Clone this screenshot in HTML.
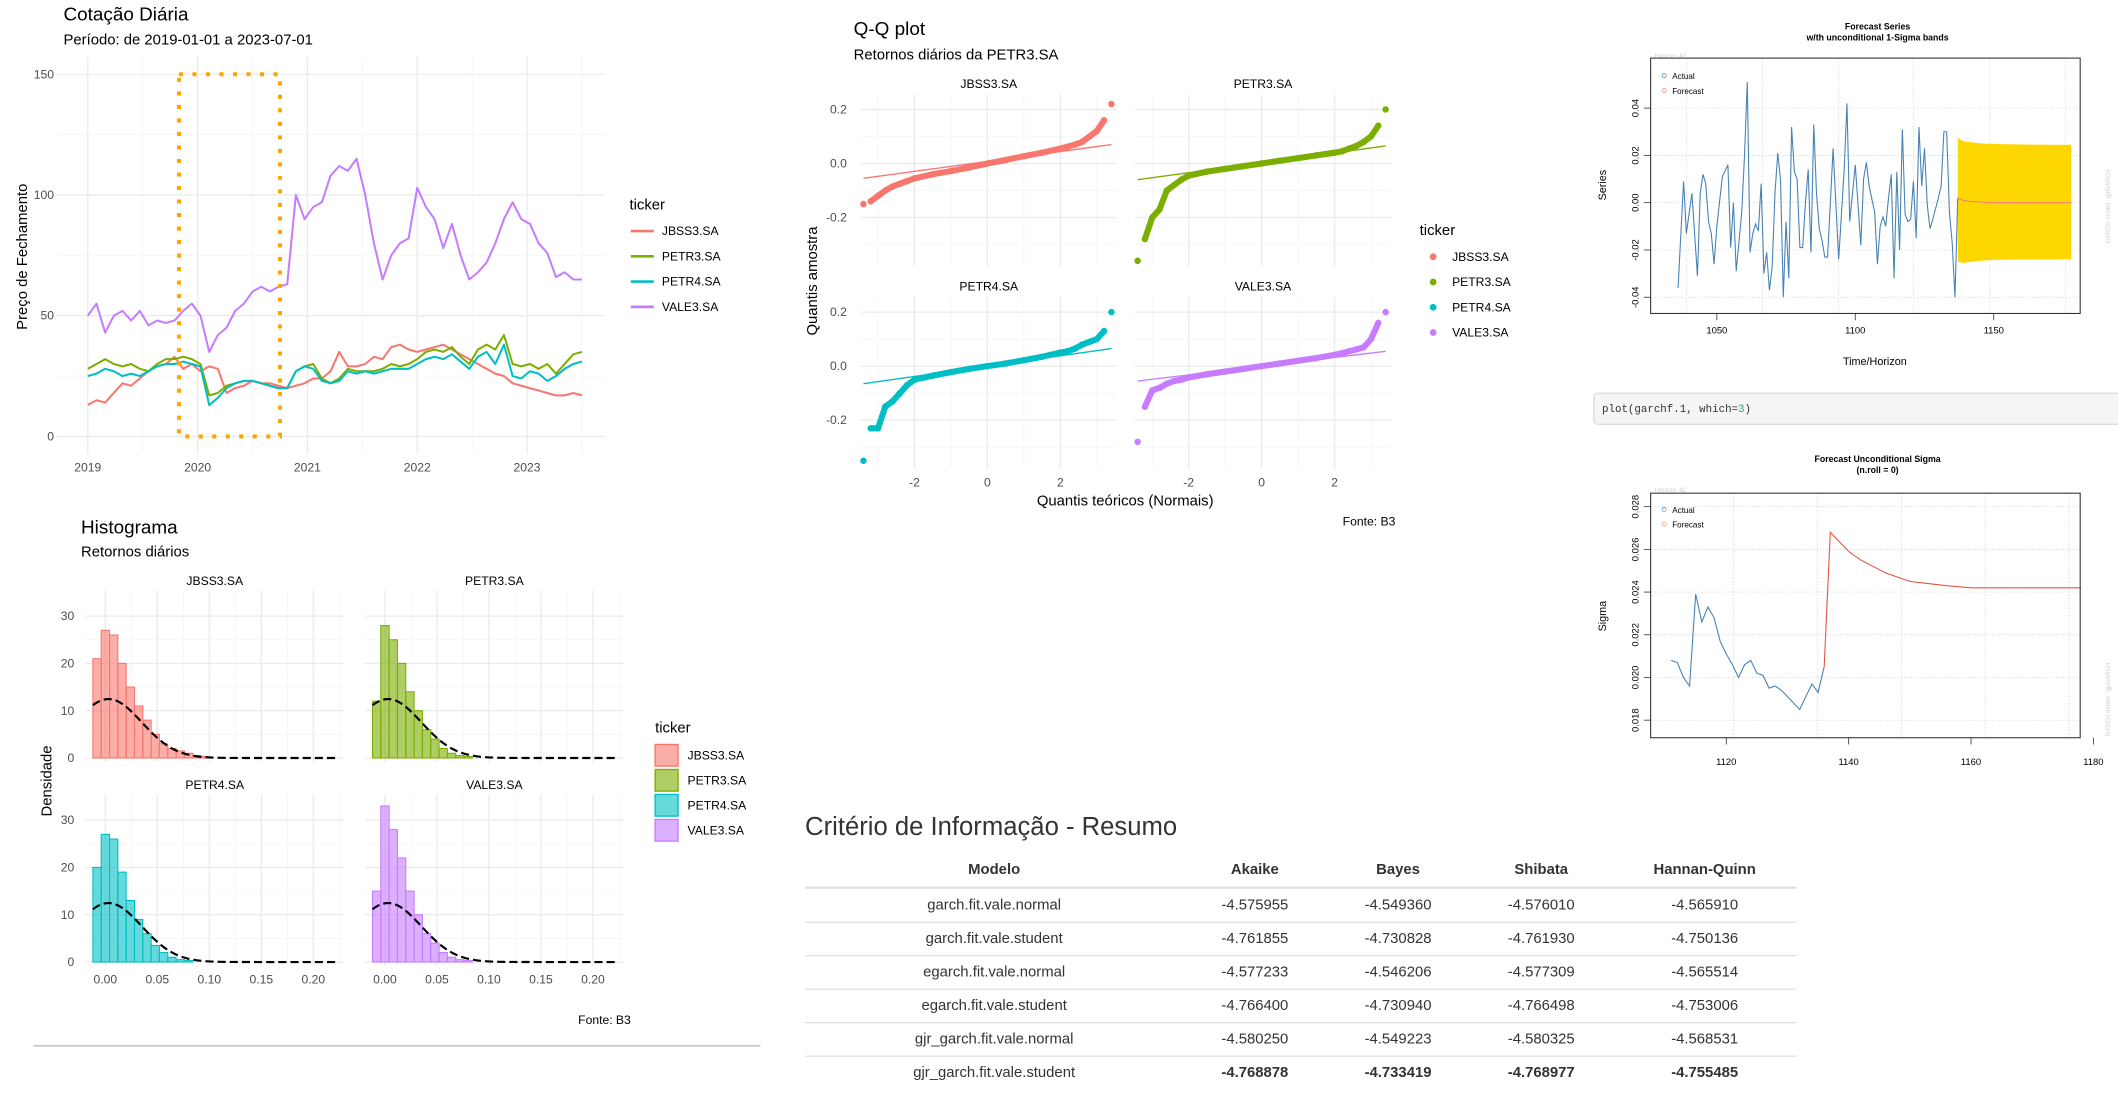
<!DOCTYPE html>
<html><head><meta charset="utf-8">
<style>
html,body{margin:0;padding:0;background:#fff;}
svg{display:block;font-family:"Liberation Sans",sans-serif;}
</style></head>
<body>
<svg id="root" xmlns="http://www.w3.org/2000/svg" width="2118" height="1112" viewBox="0 0 1568 823" preserveAspectRatio="none">
<rect x="0" y="0" width="1568" height="823" fill="#fff"/>
<!-- Panel 1 titles -->
<text x="47" y="15" font-size="14" fill="#000">Cotação Diária</text>
<text x="47" y="33" font-size="11" fill="#000">Período: de 2019-01-01 a 2023-07-01</text>
<text transform="translate(20,190) rotate(-90)" text-anchor="middle" font-size="11">Preço de Fechamento</text>
<g id="p1"></g>
<!-- Histogram -->
<text x="60" y="395" font-size="14">Histograma</text>
<text x="60" y="412" font-size="11">Retornos diários</text>
<text transform="translate(38,578) rotate(-90)" text-anchor="middle" font-size="11">Densidade</text>
<text x="467" y="758" text-anchor="end" font-size="9">Fonte: B3</text>
<line x1="25" y1="774" x2="563" y2="774" stroke="#bbb" stroke-width="1"/>
<g id="p2"></g>
<!-- QQ -->
<text x="632" y="26" font-size="14">Q-Q plot</text>
<text x="632" y="44" font-size="11">Retornos diários da PETR3.SA</text>
<text transform="translate(605,208) rotate(-90)" text-anchor="middle" font-size="11">Quantis amostra</text>
<text x="833" y="374" text-anchor="middle" font-size="11">Quantis teóricos (Normais)</text>
<text x="1033" y="389" text-anchor="end" font-size="9">Fonte: B3</text>
<g id="p3"></g>
<!-- Forecast series -->
<text x="1390" y="22" text-anchor="middle" font-size="6.5" font-weight="bold">Forecast Series</text>
<text x="1390" y="30" text-anchor="middle" font-size="6.5" font-weight="bold">w/th unconditional 1-Sigma bands</text>
<text x="1225" y="43" font-size="4.5" fill="#ccc">Horizon: 42</text>
<text transform="translate(1189,137) rotate(-90)" text-anchor="middle" font-size="8">Series</text>
<text x="1388" y="270" text-anchor="middle" font-size="8">Time/Horizon</text>
<text transform="translate(1562,180) rotate(-90)" font-size="4.5" fill="#ccc">GARCH model : gjrGARCH</text>
<g id="p4"></g>
<!-- code chunk -->
<rect x="1180" y="291" width="395" height="23" rx="3" fill="#f5f5f5" stroke="#ddd"/>
<text x="1186" y="305" font-family="Liberation Mono, monospace" font-size="8" fill="#333">plot(garchf.1, which=<tspan fill="#1aa">3</tspan>)</text>
<!-- Sigma -->
<text x="1390" y="342" text-anchor="middle" font-size="6.5" font-weight="bold">Forecast Unconditional Sigma</text>
<text x="1390" y="350" text-anchor="middle" font-size="6.5" font-weight="bold">(n.roll = 0)</text>
<text x="1225" y="364" font-size="4.5" fill="#ccc">Horizon: 42</text>
<text transform="translate(1189,456) rotate(-90)" text-anchor="middle" font-size="8">Sigma</text>
<text transform="translate(1562,545) rotate(-90)" font-size="4.5" fill="#ccc">GARCH model : gjrGARCH</text>
<g id="p5"></g>
<!-- Table -->
<text x="596" y="618" font-size="19" fill="#333">Critério de Informação - Resumo</text>
<g id="tbl"></g>
</svg>
<script>
const NS="http://www.w3.org/2000/svg";
function mk(tag,a,p){const e=document.createElementNS(NS,tag);for(const k in a)e.setAttribute(k,a[k]);p.appendChild(e);return e;}
function tx(s,a,p){const e=mk('text',a,p);e.textContent=s;return e;}
const tickers=["JBSS3.SA","PETR3.SA","PETR4.SA","VALE3.SA"];
const colors=["#F8766D","#7CAE00","#00BFC4","#C77CFF"];

// ===== Panel 1: prices (monthly, 2019-01 .. 2023-07) =====
const priceJBSS3=[13,15,14,18,22,21,24,27,29,30,33,28,30,27,29,28,18,20,21,23,22,22,21,20,21,22,24,24,27,35,29,29,30,33,32,37,38,36,35,36,37,38,36,34,32,30,28,26,25,22,21,20,19,18,17,17,18,17];
const pricePETR3=[28,30,32,30,29,30,28,27,30,32,32,33,32,30,17,18,21,22,23,23,22,21,20,20,27,29,30,24,22,24,28,27,27,27,28,30,29,30,32,35,36,35,37,33,30,36,38,36,42,30,29,30,28,30,26,30,34,35];
const pricePETR4=[25,26,28,27,25,26,25,27,29,30,30,31,30,29,13,16,20,22,23,23,22,21,20,20,27,29,28,23,22,23,27,26,27,26,27,28,28,28,30,32,33,32,34,31,28,33,35,30,38,25,24,27,26,23,25,28,30,31];
const priceVALE3=[50,55,43,50,52,48,52,46,48,47,48,52,55,50,35,42,45,52,55,60,62,60,62,63,100,90,95,97,108,112,110,115,100,80,65,75,80,82,103,95,90,78,88,75,65,68,72,80,90,97,90,88,80,76,66,68,65,65];
const priceSeries=[priceJBSS3,pricePETR3,pricePETR4,priceVALE3];
const yearTicks=[2019,2020,2021,2022,2023];
const priceTicks=[0,50,100,150];
(function(){
 const g=document.getElementById('p1');
 const X=t=>65+(t-2019)*81.3, Y=v=>323-v*1.787;
 for(let v=25;v<=150;v+=50) mk('line',{x1:42,x2:448,y1:Y(v),y2:Y(v),stroke:'#f3f3f3','stroke-width':0.5},g);
 for(let t=2019.5;t<2024;t+=1) mk('line',{x1:X(t),x2:X(t),y1:42,y2:336,stroke:'#f3f3f3','stroke-width':0.5},g);
 priceTicks.forEach(v=>{mk('line',{x1:42,x2:448,y1:Y(v),y2:Y(v),stroke:'#ebebeb','stroke-width':1},g);
  const l=tx(String(v),{x:40,y:Y(v)+3,'text-anchor':'end','font-size':9,fill:'#4d4d4d'},g);
  
  });
 yearTicks.forEach(t=>{mk('line',{x1:X(t),x2:X(t),y1:42,y2:336,stroke:'#ebebeb','stroke-width':1},g);
  const l=tx(String(t),{x:X(t),y:349,'text-anchor':'middle','font-size':9,fill:'#4d4d4d'},g);
  
  });
 priceSeries.forEach((s,k)=>{
  const pts=s.map((v,i)=>X(2019+i*(4.5/(s.length-1)))+','+Y(v)).join(' ');
  const pl=mk('polyline',{points:pts,fill:'none',stroke:colors[k],'stroke-width':1.5,'stroke-linejoin':'round'},g);
  
  
 });
 const r=mk('rect',{x:X(2019.83),y:Y(150),width:X(2020.75)-X(2019.83),height:Y(0)-Y(150),fill:'none',stroke:'#FFA500','stroke-width':3,'stroke-dasharray':'3,7'},g);
 
 
 const lt=tx('ticker',{x:466,y:155,'font-size':11},g);
 
 
 tickers.forEach((t,k)=>{const y=171+k*18.7;
  mk('line',{x1:467,x2:484,y1:y,y2:y,stroke:colors[k],'stroke-width':2},g);
  const e=tx(t,{x:490,y:y+3,'font-size':9},g);
  
  });
})();

// ===== Panel 2: histograms (density per bin, bins start -0.012 width 0.008) =====
const histJBSS3=[21,27,26,20,15,11,8,5,3,2,1.5,1,0.5,0.3];
const histPETR3=[12,28,25,20,14,10,6,4,2,1,0.5,0.3];
const histPETR4=[20,27,26,19,13,9,6,3.5,2,1,0.5,0.3];
const histVALE3=[15,33,28,22,15,10,6,4,2,1,0.5,0.3];
const histSeries=[histJBSS3,histPETR3,histPETR4,histVALE3];
const normMean=[0.003,0.003,0.003,0.003];
const normSd=[0.032,0.032,0.032,0.032];
const histXTicks=[0,0.05,0.1,0.15,0.2];
const histXLabels=["0.00","0.05","0.10","0.15","0.20"];
const histYTicks=[0,10,20,30];
(function(){
 const g=document.getElementById('p2');
 const cols=[63,270], rows=[437,588];
 tickers.forEach((tk,k)=>{
  const x0=cols[k%2], y0=rows[Math.floor(k/2)];
  const X=v=>x0+15+v*770, Y=d=>y0+124-d*3.5;
  for(let v=0.025;v<0.24;v+=0.05) mk('line',{x1:X(v),x2:X(v),y1:y0,y2:y0+127,stroke:'#f3f3f3','stroke-width':0.5},g);
  for(let d=5;d<35;d+=10) mk('line',{x1:x0,x2:x0+192,y1:Y(d),y2:Y(d),stroke:'#f3f3f3','stroke-width':0.5},g);
  histXTicks.forEach((v,i)=>{mk('line',{x1:X(v),x2:X(v),y1:y0,y2:y0+127,stroke:'#ebebeb'},g);
   if(y0===588){const l=tx(histXLabels[i],{x:X(v),y:728,'text-anchor':'middle','font-size':9,fill:'#4d4d4d'},g);
    
    }});
  histYTicks.forEach(d=>{mk('line',{x1:x0,x2:x0+192,y1:Y(d),y2:Y(d),stroke:'#ebebeb'},g);
   if(x0===63){const l=tx(String(d),{x:55,y:Y(d)+3,'text-anchor':'end','font-size':9,fill:'#4d4d4d'},g);
    
    }});
  const st=tx(tk,{x:x0+96,y:y0-4,'text-anchor':'middle','font-size':9},g);
  
  
  histSeries[k].forEach((d,i)=>{const a=-0.012+i*0.008;
   const b=mk('rect',{x:X(a),y:Y(d),width:X(a+0.008)-X(a),height:Y(0)-Y(d),fill:colors[k],'fill-opacity':0.6,stroke:colors[k],'stroke-width':0.8},g);
   
   });
  const pts=[];for(let v=-0.012;v<=0.225;v+=0.002){const z=(v-normMean[k])/normSd[k];pts.push(X(v)+','+Y(Math.exp(-z*z/2)/(normSd[k]*2.5066)));}
  const c=mk('polyline',{points:pts.join(' '),fill:'none',stroke:'#000','stroke-width':1.6,'stroke-dasharray':'6,3'},g);
  
  
 });
 const lt=tx('ticker',{x:485,y:542,'font-size':11},g);
 
 
 tickers.forEach((t,k)=>{const y=551+k*18.5;
  mk('rect',{x:485,y:y,width:17,height:16,fill:colors[k],'fill-opacity':0.6,stroke:colors[k]},g);
  const e=tx(t,{x:509,y:y+11,'font-size':9},g);
  
  });
})();

// ===== Panel 3: QQ =====
const qqTheo=[-3.4,-3.2,-3,-2.8,-2.6,-2.4,-2.2,-2,-1.5,-1,-0.5,0,0.5,1,1.5,2,2.2,2.4,2.6,2.8,3,3.2,3.4];
const qqJBSS3=[-0.15,-0.14,-0.12,-0.1,-0.085,-0.075,-0.065,-0.055,-0.04,-0.028,-0.015,0,0.013,0.027,0.04,0.055,0.062,0.07,0.08,0.1,0.12,0.16,0.22];
const qqPETR3=[-0.36,-0.28,-0.2,-0.17,-0.1,-0.08,-0.06,-0.045,-0.03,-0.02,-0.01,0,0.01,0.02,0.03,0.04,0.045,0.055,0.065,0.08,0.1,0.14,0.2];
const qqPETR4=[-0.35,-0.23,-0.23,-0.15,-0.13,-0.1,-0.07,-0.05,-0.035,-0.022,-0.01,0,0.01,0.022,0.035,0.05,0.055,0.065,0.08,0.09,0.1,0.13,0.2];
const qqVALE3=[-0.28,-0.15,-0.09,-0.08,-0.065,-0.055,-0.05,-0.042,-0.03,-0.02,-0.01,0,0.01,0.02,0.03,0.042,0.048,0.055,0.062,0.07,0.1,0.16,0.2];
const qqSeries=[qqJBSS3,qqPETR3,qqPETR4,qqVALE3];
const qqLineLo=[-0.055,-0.06,-0.065,-0.055];
const qqLineHi=[0.07,0.065,0.065,0.055];
const qqXTicks=[-2,0,2];
const qqYTicks=[-0.2,0,0.2];
(function(){
 const g=document.getElementById('p3');
 const cols=[637,840], rows=[70,220];
 tickers.forEach((tk,k)=>{
  const x0=cols[k%2], y0=rows[Math.floor(k/2)];
  const X=v=>x0+94+v*27, Y=v=>y0+51-v*200;
  [-3,-1,1,3].forEach(v=>mk('line',{x1:X(v),x2:X(v),y1:y0,y2:y0+127,stroke:'#f3f3f3','stroke-width':0.5},g));
  [-0.3,-0.1,0.1].forEach(v=>mk('line',{x1:x0,x2:x0+190,y1:Y(v),y2:Y(v),stroke:'#f3f3f3','stroke-width':0.5},g));
  qqXTicks.forEach(v=>{mk('line',{x1:X(v),x2:X(v),y1:y0,y2:y0+127,stroke:'#ebebeb'},g);
   if(y0===220){const l=tx(String(v),{x:X(v),y:360,'text-anchor':'middle','font-size':9,fill:'#4d4d4d'},g);
    
    }});
  qqYTicks.forEach(v=>{mk('line',{x1:x0,x2:x0+190,y1:Y(v),y2:Y(v),stroke:'#ebebeb'},g);
   if(x0===637){const l=tx(v.toFixed(1),{x:627,y:Y(v)+3,'text-anchor':'end','font-size':9,fill:'#4d4d4d'},g);
    
    }});
  const st=tx(tk,{x:x0+95,y:y0-5,'text-anchor':'middle','font-size':9},g);
  
  
  const s=qqSeries[k];
  const pl=mk('polyline',{points:qqTheo.slice(1,-1).map((t,i)=>X(t)+','+Y(s[i+1])).join(' '),fill:'none',stroke:colors[k],'stroke-width':4.5,'stroke-linejoin':'round'},g);
  
  
  qqTheo.forEach((t,i)=>{const c=mk('circle',{cx:X(t),cy:Y(s[i]),r:2.4,fill:colors[k]},g);
   
   });
  const rl=mk('line',{x1:X(-3.4),y1:Y(qqLineLo[k]),x2:X(3.4),y2:Y(qqLineHi[k]),stroke:colors[k],'stroke-width':1},g);
  
  
 });
 const lt=tx('ticker',{x:1051,y:174,'font-size':11},g);
 
 
 tickers.forEach((t,k)=>{const y=190+k*18.7;
  mk('circle',{cx:1061,cy:y,r:2.5,fill:colors[k]},g);
  const e=tx(t,{x:1075,y:y+3,'font-size':9},g);
  
  });
})();

// ===== Panel 4: forecast series =====
const fcTime=[1036,1038,1039,1041,1043,1044,1045,1046,1047,1048,1049,1050,1052,1054,1055,1056,1057,1059,1060,1061,1062,1063,1064,1065,1066,1067,1068,1069,1070,1071,1072,1073,1074,1075,1076,1077,1078,1079,1080,1081,1082,1083,1084,1085,1086,1087,1088,1089,1090,1092,1094,1096,1097,1098,1100,1102,1103,1104,1105,1107,1108,1109,1110,1111,1112,1113,1114,1115,1116,1117,1118,1119,1120,1121,1122,1123,1124,1125,1126,1127,1128,1130,1131,1132,1133,1134,1135,1136,1137];
const fcActual=[-0.036,0.009,-0.013,0.004,-0.031,0.004,0.012,0.008,-0.008,-0.013,-0.026,-0.01,0.011,0.016,-0.019,0,-0.029,-0.004,0.02,0.051,-0.021,-0.013,-0.009,-0.012,0.008,-0.03,-0.021,-0.037,-0.027,0.004,0.021,0.01,-0.04,-0.008,-0.032,0.032,0.013,0.01,-0.019,-0.019,0,0.014,-0.021,0.033,0.004,-0.011,-0.016,-0.023,-0.023,0.023,-0.024,0.014,0.042,-0.008,0.016,-0.018,0.01,0.017,0.007,-0.004,-0.026,-0.01,-0.006,-0.01,0.002,0.012,-0.032,0.013,-0.02,0.031,-0.005,-0.008,-0.007,0.009,-0.015,0.032,0.007,0.023,-0.001,-0.011,-0.007,0.002,0.007,0.03,0.03,-0.004,-0.017,-0.04,0.002];
const fcHTime=[1137,1139,1142,1146,1150,1160,1170,1178];
const fcMean=[0.002,0.001,0.0005,0.0002,0.0001,0,0,0];
const fcUpper=[0.0275,0.026,0.0255,0.025,0.0248,0.0246,0.0245,0.0245];
const fcLower=[-0.025,-0.0255,-0.025,-0.0245,-0.0242,-0.024,-0.024,-0.024];
const fcXTicks=[1050,1100,1150];
const fcYTicks=[-0.04,-0.02,0,0.02,0.04];
(function(){
 const g=document.getElementById('p4');
 const X=t=>1271+(t-1050)*2.05, Y=v=>150-v*1750;
 [1039,1066.5,1094,1121,1148.6,1176].forEach(t=>mk('line',{x1:X(t),x2:X(t),y1:43,y2:232,stroke:'#ccc','stroke-width':0.5,'stroke-dasharray':'1,1.5'},g));
 fcYTicks.forEach(v=>{mk('line',{x1:1222,x2:1540,y1:Y(v),y2:Y(v),stroke:'#ccc','stroke-width':0.5,'stroke-dasharray':'1,1.5'},g);
  mk('line',{x1:1217,x2:1222,y1:Y(v),y2:Y(v),stroke:'#333','stroke-width':0.6},g);
  const l=tx(v.toFixed(2),{transform:`translate(1213,${Y(v)}) rotate(-90)`,'text-anchor':'middle','font-size':7},g);
  
  });
 fcXTicks.forEach(t=>{mk('line',{x1:X(t),x2:X(t),y1:232,y2:237,stroke:'#333','stroke-width':0.6},g);
  const l=tx(String(t),{x:X(t),y:247,'text-anchor':'middle','font-size':7},g);
  
  });
 const band=fcHTime.map((t,i)=>X(t)+','+Y(fcUpper[i])).concat(fcHTime.slice().reverse().map((t,i)=>X(t)+','+Y(fcLower[fcHTime.length-1-i])));
 const b=mk('polygon',{points:band.join(' '),fill:'#FFD700'},g);
 
 
 const a=mk('polyline',{points:fcTime.map((t,i)=>X(t)+','+Y(fcActual[i])).join(' '),fill:'none',stroke:'#4682B4','stroke-width':0.8},g);
 
 
 const f=mk('polyline',{points:fcHTime.map((t,i)=>X(t)+','+Y(fcMean[i])).join(' '),fill:'none',stroke:'#FA8072','stroke-width':0.8},g);
 
 
 mk('rect',{x:1222,y:43,width:318,height:189,fill:'none',stroke:'#333','stroke-width':0.8},g);
 mk('circle',{cx:1232,cy:56,r:1.5,fill:'none',stroke:'#4682B4','stroke-width':0.5},g);
 mk('circle',{cx:1232,cy:67,r:1.5,fill:'none',stroke:'#FA8072','stroke-width':0.5},g);
 const l1=tx('Actual',{x:1238,y:58.5,'font-size':6},g);
 
 
 const l2=tx('Forecast',{x:1238,y:69.5,'font-size':6},g);
 
 
})();

// ===== Panel 5: sigma =====
const sgTime=[1111,1112,1113,1114,1115,1116,1117,1118,1119,1120,1121,1122,1123,1124,1125,1126,1127,1128,1129,1130,1131,1132,1133,1134,1135,1136];
const sgActual=[0.0208,0.0207,0.0200,0.0196,0.0239,0.0226,0.0233,0.0228,0.0217,0.0211,0.0206,0.0200,0.0206,0.0208,0.0202,0.0201,0.0195,0.0196,0.0194,0.0191,0.0188,0.0185,0.0191,0.0197,0.0193,0.0205];
const sgFTime=[1136,1137,1138,1139,1140,1142,1144,1146,1148,1150,1153,1156,1160,1165,1178];
const sgForecast=[0.0205,0.0268,0.0265,0.0262,0.0259,0.0255,0.0252,0.0249,0.0247,0.0245,0.0244,0.0243,0.0242,0.0242,0.0242];
const sgXTicks=[1120,1140,1160,1180];
const sgYTicks=[0.018,0.020,0.022,0.024,0.026,0.028];
(function(){
 const g=document.getElementById('p5');
 const X=t=>1278+(t-1120)*4.53, Y=v=>533-(v-0.018)*15800;
 [1121.2,1134.9,1148.6,1162.3,1176].forEach(t=>mk('line',{x1:X(t),x2:X(t),y1:365,y2:546,stroke:'#ccc','stroke-width':0.5,'stroke-dasharray':'1,1.5'},g));
 sgYTicks.forEach(v=>{mk('line',{x1:1222,x2:1540,y1:Y(v),y2:Y(v),stroke:'#ccc','stroke-width':0.5,'stroke-dasharray':'1,1.5'},g);
  mk('line',{x1:1217,x2:1222,y1:Y(v),y2:Y(v),stroke:'#333','stroke-width':0.6},g);
  const l=tx(v.toFixed(3),{transform:`translate(1213,${Y(v)}) rotate(-90)`,'text-anchor':'middle','font-size':7},g);
  
  });
 sgXTicks.forEach(t=>{mk('line',{x1:X(t),x2:X(t),y1:546,y2:551,stroke:'#333','stroke-width':0.6},g);
  const l=tx(String(t),{x:X(t),y:566,'text-anchor':'middle','font-size':7},g);
  
  });
 const a=mk('polyline',{points:sgTime.map((t,i)=>X(t)+','+Y(sgActual[i])).join(' '),fill:'none',stroke:'#4682B4','stroke-width':0.8},g);
 
 
 const f=mk('polyline',{points:sgFTime.map((t,i)=>X(t)+','+Y(sgForecast[i])).join(' '),fill:'none',stroke:'#E5533F','stroke-width':0.8},g);
 
 
 mk('rect',{x:1222,y:365,width:318,height:181,fill:'none',stroke:'#333','stroke-width':0.8},g);
 mk('circle',{cx:1232,cy:377,r:1.5,fill:'none',stroke:'#4682B4','stroke-width':0.5},g);
 mk('circle',{cx:1232,cy:388,r:1.5,fill:'none',stroke:'#FA8072','stroke-width':0.5},g);
 const l1=tx('Actual',{x:1238,y:379.5,'font-size':6},g);
 
 
 const l2=tx('Forecast',{x:1238,y:390.5,'font-size':6},g);
 
 
})();

// ===== Table =====
const tblHeader=["Modelo","Akaike","Bayes","Shibata","Hannan-Quinn"];
const tblModels=["garch.fit.vale.normal","garch.fit.vale.student","egarch.fit.vale.normal","egarch.fit.vale.student","gjr_garch.fit.vale.normal","gjr_garch.fit.vale.student"];
const tblAkaike=["-4.575955","-4.761855","-4.577233","-4.766400","-4.580250","-4.768878"];
const tblBayes=["-4.549360","-4.730828","-4.546206","-4.730940","-4.549223","-4.733419"];
const tblShibata=["-4.576010","-4.761930","-4.577309","-4.766498","-4.580325","-4.768977"];
const tblHQ=["-4.565910","-4.750136","-4.565514","-4.753006","-4.568531","-4.755485"];
(function(){
 const g=document.getElementById('tbl');
 const cx=[736,929,1035,1141,1262];
 tblHeader.forEach((h,i)=>{const e=tx(h,{x:cx[i],y:647,'text-anchor':'middle','font-size':11,'font-weight':'bold',fill:'#333'},g);
  
  });
 mk('line',{x1:596,x2:1330,y1:657,y2:657,stroke:'#ddd','stroke-width':1.5},g);
 const cols=[tblModels,tblAkaike,tblBayes,tblShibata,tblHQ];
 tblModels.forEach((m,r)=>{const y=673+r*24.8;
  if(r<5) mk('line',{x1:596,x2:1330,y1:y+9.5,y2:y+9.5,stroke:'#ddd','stroke-width':0.8},g);
  cols.forEach((c,i)=>{const e=tx(c[r],{x:cx[i],y:y,'text-anchor':'middle','font-size':11,fill:'#333','font-weight':(r===5&&i>0)?'bold':'normal'},g);
   
   });
 });
})();
</script>
</body></html>
